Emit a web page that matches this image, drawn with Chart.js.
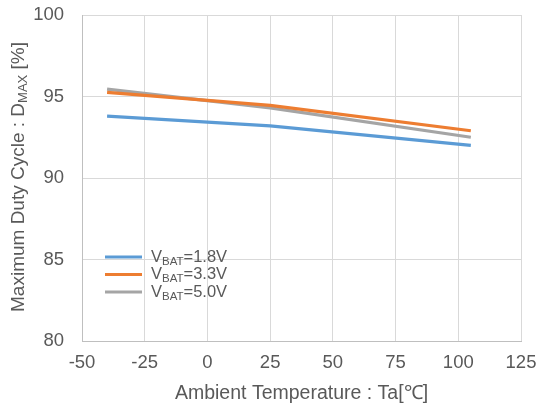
<!DOCTYPE html>
<html><head><meta charset="utf-8">
<script src="https://cdn.jsdelivr.net/npm/chart.js@4"></script>
<style>html,body{margin:0;padding:0;background:#fff}</style>
</head><body>
<canvas id="c" width="537" height="405"></canvas>
<script>
const temperatures = [-40, 25, 105];
const vbat18 = [93.8, 93.2, 92.0];
const vbat33 = [95.25, 94.45, 92.9];
const vbat50 = [95.45, 94.3, 92.5];
const seriesLabels = ['1.8V', '3.3V', '5.0V'];
const xTicks = [-50, -25, 0, 25, 50, 75, 100, 125];
const yTicks = [80, 85, 90, 95, 100];
const xTitle = 'Ambient Temperature : Ta[\u2103]';
const yTitleParts = ['Maximum Duty Cycle : D', 'MAX', ' [%]'];

const colors = ['#5B9BD5', '#ED7D31', '#A5A5A5'];
const textColor = '#595959';
const FONT = '"Liberation Sans", Arial, sans-serif';

function pts(vals) { return temperatures.map((t, i) => ({x: t, y: vals[i]})); }
const seriesVals = [vbat18, vbat33, vbat50];

function zeroPad(s) { s.paddingTop = 0; s.paddingBottom = 0; s.paddingLeft = 0; s.paddingRight = 0; }

const overlay = {
  id: 'overlay',
  afterDraw(chart) {
    const ctx = chart.ctx;
    // Y title with subscript
    ctx.save();
    ctx.fillStyle = textColor;
    ctx.textBaseline = 'alphabetic';
    ctx.textAlign = 'left';
    const tBig = '19px ' + FONT, tSmall = '13px ' + FONT;
    ctx.font = tBig; const w1 = ctx.measureText(yTitleParts[0]).width;
    ctx.font = tSmall; const w2 = ctx.measureText(yTitleParts[1]).width;
    ctx.font = tBig; const w3 = ctx.measureText(yTitleParts[2]).width;
    const total = w1 + w2 + w3;
    ctx.translate(24, 177);
    ctx.rotate(-Math.PI / 2);
    let x = -total / 2;
    ctx.font = tBig; ctx.fillText(yTitleParts[0], x, 0); x += w1;
    ctx.font = tSmall; ctx.fillText(yTitleParts[1], x, 3); x += w2;
    ctx.font = tBig; ctx.fillText(yTitleParts[2], x, 0);
    ctx.restore();

    // Legend
    ctx.save();
    const big = '16.5px ' + FONT, small = '11.5px ' + FONT;
    const rows = [257, 274.5, 292];
    seriesLabels.forEach((lab, i) => {
      const y = rows[i];
      ctx.strokeStyle = colors[i];
      ctx.lineWidth = 3;
      ctx.beginPath(); ctx.moveTo(105, y); ctx.lineTo(142, y); ctx.stroke();
      ctx.fillStyle = textColor;
      ctx.textBaseline = 'alphabetic';
      let tx = 151;
      const base = y + 4.5;
      ctx.font = big; ctx.fillText('V', tx, base); tx += ctx.measureText('V').width;
      ctx.font = small; ctx.fillText('BAT', tx, base + 3); tx += ctx.measureText('BAT').width;
      ctx.font = big; ctx.fillText('=' + lab, tx, base);
    });
    ctx.restore();
  }
};

new Chart(document.getElementById('c'), {
  type: 'line',
  data: {
    datasets: seriesVals.map((v, i) => ({
      label: 'VBAT=' + seriesLabels[i],
      data: pts(v),
      borderColor: colors[i],
      backgroundColor: colors[i],
      borderWidth: 3.2,
      pointRadius: 0,
      tension: 0,
      fill: false
    }))
  },
  options: {
    responsive: false,
    animation: false,
    layout: {padding: {left: 0, right: 16, top: 15, bottom: 0}},
    plugins: {legend: {display: false}, tooltip: {enabled: false}},
    scales: {
      x: {
        type: 'linear',
        min: -50, max: 125,
        afterBuildTicks(s) { s.ticks = xTicks.map(v => ({value: v})); },
        afterFit(s) { s.height = 64; zeroPad(s); },
        grid: {color: '#d9d9d9', lineWidth: 1, drawTicks: false},
        border: {color: '#bfbfbf', width: 1},
        ticks: {color: textColor, font: {size: 18.5, family: FONT}, padding: 11, maxRotation: 0},
        title: {display: true, text: xTitle, color: textColor, font: {size: 19.5, family: FONT}, padding: {top: 0, bottom: 0}}
      },
      y: {
        min: 80, max: 100,
        afterBuildTicks(s) { s.ticks = yTicks.map(v => ({value: v})); },
        afterFit(s) { s.width = 82; zeroPad(s); },
        grid: {color: '#d9d9d9', lineWidth: 1, drawTicks: false},
        border: {color: '#bfbfbf', width: 1},
        ticks: {color: textColor, font: {size: 18.5, family: FONT}, padding: 18}
      }
    }
  },
  plugins: [overlay]
});
</script>
</body></html>
